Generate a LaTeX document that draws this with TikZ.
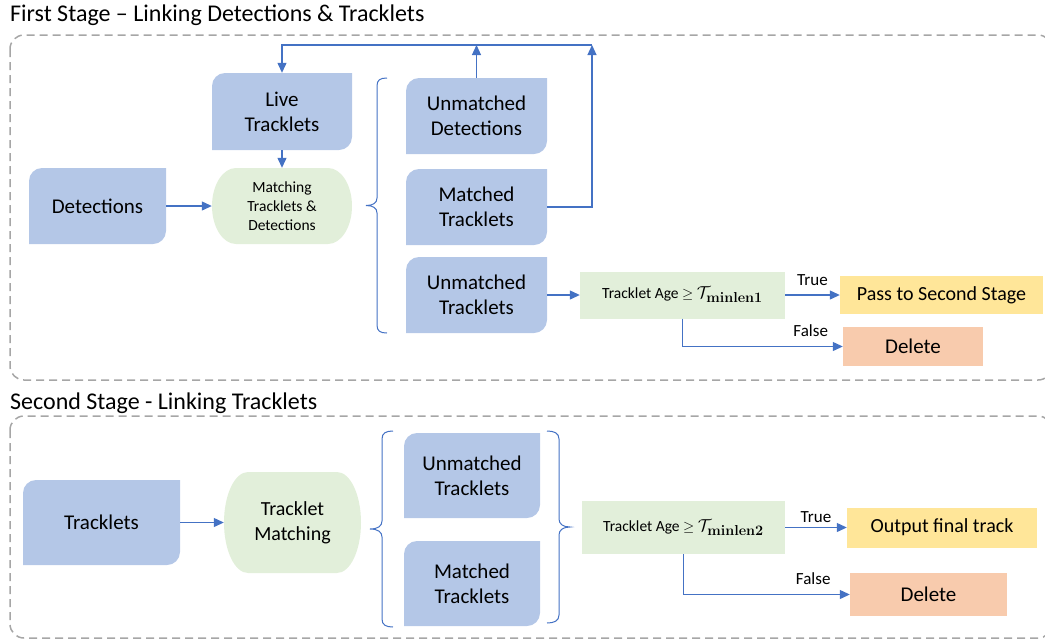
\documentclass[tikz,border=0pt]{standalone}
\usepackage[no-math]{fontspec}
\setmainfont{Carlito}
\usetikzlibrary{arrows.meta, calc, positioning}

\definecolor{blkblue}{HTML}{B4C7E7}
\definecolor{mtcgreen}{HTML}{E2EFDA}
\definecolor{resyellow}{HTML}{FFE699}
\definecolor{resorange}{HTML}{F8CBAD}
\definecolor{arrblue}{HTML}{4472C4}
\definecolor{stagegray}{HTML}{A6A6A6}

\newcommand{\agetext}[1]{Tracklet Age $\geq$ {\fontsize{19}{19}\selectfont$\mathcal{T}_{\mathbf{#1}}$}}

\begin{document}
\begin{tikzpicture}
    %defining some styles
    [
        x=1pt, y=1pt,
        blk/.style={inner sep=0pt, minimum width=141pt, minimum height=76pt, align=center,
            font=\fontsize{21}{25}\selectfont,
            path picture={\fill[blkblue] let \p1=(path picture bounding box.north west), \p2=(path picture bounding box.south east) in
                (\x1,\y1-13pt) arc[start angle=180, end angle=90, radius=13pt] -- (\x2,\y1)
                -- (\x2,\y2+13pt) arc[start angle=0, end angle=-90, radius=13pt] -- (\x1,\y2) -- cycle;}},
        mtc/.style={inner sep=0pt, align=center,
            path picture={\fill[mtcgreen] let \p1=(path picture bounding box.north west), \p2=(path picture bounding box.south east), \n1={(\y1-\y2)/2} in
                (\x1+24pt,\y1) -- (\x2-24pt,\y1) arc[start angle=90, end angle=-90, x radius=24pt, y radius=\n1]
                -- (\x1+24pt,\y2) arc[start angle=270, end angle=90, x radius=24pt, y radius=\n1] -- cycle;}},
        agebox/.style={inner sep=0pt, fill=mtcgreen, font=\fontsize{15.5}{18}\selectfont},
        res/.style={inner sep=0pt, font=\fontsize{20}{24}\selectfont},
        ttl/.style={inner sep=0pt, font=\fontsize{24}{28}\selectfont},
        stagebox/.style={draw=stagegray, line width=1.5pt, dash pattern=on 8pt off 5pt, rounded corners=14pt},
        arr/.style={draw=arrblue, line width=1.2pt, -{Triangle[length=10pt, width=9pt]}},
        brc/.style={draw=arrblue, line width=1pt},
        lbl/.style={inner sep=0pt, font=\fontsize{17}{20}\selectfont},
    ]
    \clip (0,0) rectangle (1045,-641);

    % first stage
    \node (title1) at (10,-21) [anchor=base west, ttl] {First Stage -- Linking Detections \& Tracklets};
    \draw[stagebox] (10,-35) rectangle (1052,-380);

    \node (live) at (282,-111.5) [blk, minimum width=140pt, minimum height=77pt] {Live\\Tracklets};
    \node (det) at (97.5,-206) [blk, minimum width=137pt] {Detections};
    \node (match1) at (282,-206) [mtc, minimum width=140pt, minimum height=76pt, font=\fontsize{15.5}{19}\selectfont] {Matching\\Tracklets \&\\Detections};
    \node (umdet) at (476.5,-116) [blk] {Unmatched\\Detections};
    \node (mtr1) at (476.5,-207) [blk] {Matched\\Tracklets};
    \node (umtr1) at (476.5,-295) [blk] {Unmatched\\Tracklets};
    \node (age1) at (682.5,-295) [agebox, minimum width=205pt, minimum height=47pt] {\agetext{minlen1}};
    \node (pass) at (941.5,-295) [res, fill=resyellow, minimum width=203pt, minimum height=38pt] {Pass to Second Stage};
    \node (del1) at (913,-346.5) [res, fill=resorange, minimum width=140pt, minimum height=39pt, font=\fontsize{21}{25}\selectfont] {Delete};

    \coordinate (loopR) at (592,-45);
    \draw[arr] (det.east) -- (match1.west);
    \draw[arr] (live.south) -- (match1.north);
    \draw[arr] (umdet.north) -- (umdet.north |- loopR);
    \draw[arr] (mtr1.east) -| (loopR);
    \draw[arr] (loopR) -- (live.north |- loopR) -- (live.north);
    \draw[brc] (387,-78) .. controls (380,-78) and (377,-80) .. (377,-86) -- (377,-198)
        .. controls (377,-203) and (373,-205.5) .. (366,-205.5)
        .. controls (373,-205.5) and (377,-208) .. (377,-213) -- (377,-325)
        .. controls (377,-331) and (380,-333) .. (387,-333);
    \draw[arr] (umtr1.east) -- (umtr1.east -| age1.west);
    \draw[arr] (age1.east) -- (age1.east -| pass.west) node[midway, above=9pt, lbl] {True};
    \draw[arr] (age1.south) |- (del1.west) node[pos=0.9, above=9pt, lbl] {False};

    % second stage
    \node (title2) at (10,-409) [anchor=base west, ttl] {Second Stage - Linking Tracklets};
    \draw[stagebox] (10,-416) rectangle (1052,-638);

    \node (trk) at (101.5,-522.5) [blk, minimum width=157pt, minimum height=85pt] {Tracklets};
    \node (tmatch) at (292.5,-522.5) [mtc, minimum width=137pt, minimum height=101pt, font=\fontsize{20}{25}\selectfont] {Tracklet\\Matching};
    \node (umtr2) at (472,-475.5) [blk, minimum width=136pt, minimum height=85pt] {Unmatched\\Tracklets};
    \node (mtr2) at (472,-583.5) [blk, minimum width=136pt, minimum height=85pt] {Matched\\Tracklets};
    \node (age2) at (683.5,-527.5) [agebox, minimum width=203pt, minimum height=53pt] {\agetext{minlen2}};
    \node (out) at (942,-527.5) [res, fill=resyellow, minimum width=190pt, minimum height=40pt] {Output final track};
    \node (del2) at (928.5,-594.5) [res, fill=resorange, minimum width=157pt, minimum height=43pt, font=\fontsize{21}{25}\selectfont] {Delete};

    \draw[arr] (trk.east) -- (tmatch.west);
    \draw[brc] (393,-431) .. controls (386,-431) and (382,-433) .. (382,-439) -- (382,-521)
        .. controls (382,-526) and (378,-529) .. (370,-529)
        .. controls (378,-529) and (382,-532) .. (382,-537) -- (382,-619)
        .. controls (382,-625) and (386,-627) .. (393,-627);
    \draw[brc] (547,-431) .. controls (554,-431) and (559,-433) .. (559,-439) -- (559,-519)
        .. controls (559,-524) and (563,-527) .. (570,-527)
        .. controls (563,-527) and (559,-530) .. (559,-535) -- (559,-615)
        .. controls (559,-621) and (554,-623) .. (547,-623);
    \draw[arr] (age2.east) -- (out.west) node[midway, above=4pt, lbl] {True};
    \draw[arr] (age2.south) |- (del2.west) node[pos=0.89, above=9pt, lbl] {False};
\end{tikzpicture}
\end{document}
